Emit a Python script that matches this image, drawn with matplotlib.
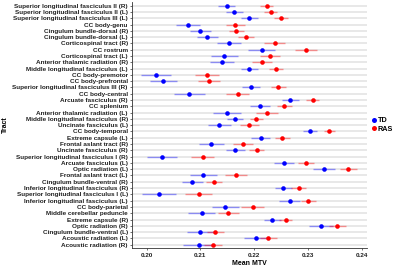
"""
Mean MTV per tract, TD vs RAS, with error bars.
"""

import numpy as np
import matplotlib
matplotlib.use("Agg")
import matplotlib.pyplot as plt
from matplotlib.lines import Line2D

# Tracts, top to bottom
tracts = [
    "Superior longitudinal fasciculus II (R)",
    "Superior longitudinal fasciculus II (L)",
    "Superior longitudinal fasciculus III (L)",
    "CC body-genu",
    "Cingulum bundle-dorsal (R)",
    "Cingulum bundle-dorsal (L)",
    "Corticospinal tract (R)",
    "CC rostrum",
    "Corticospinal tract (L)",
    "Anterior thalamic radiation (R)",
    "Middle longitudinal fasciculus (L)",
    "CC body-premotor",
    "CC body-prefrontal",
    "Superior longitudinal fasciculus III (R)",
    "CC body-central",
    "Arcuate fasciculus (R)",
    "CC splenium",
    "Anterior thalamic radiation (L)",
    "Middle longitudinal fasciculus (R)",
    "Uncinate fasciculus (L)",
    "CC body-temporal",
    "Extreme capsule (L)",
    "Frontal aslant tract (R)",
    "Uncinate fasciculus (R)",
    "Superior longitudinal fasciculus I (R)",
    "Arcuate fasciculus (L)",
    "Optic radiation (L)",
    "Frontal aslant tract (L)",
    "Cingulum bundle-ventral (R)",
    "Inferior longitudinal fasciculus (R)",
    "Superior longitudinal fasciculus I (L)",
    "Inferior longitudinal fasciculus (L)",
    "CC body-parietal",
    "Middle cerebellar peduncle",
    "Extreme capsule (R)",
    "Optic radiation (R)",
    "Cingulum bundle-ventral (L)",
    "Acoustic radiation (L)",
    "Acoustic radiation (R)",
]

td_mean = [0.2149, 0.2163, 0.2191, 0.2077, 0.2100, 0.2113, 0.2153, 0.2214, 0.2144, 0.2140,
           0.2191, 0.2018, 0.2031, 0.2194, 0.2079, 0.2267, 0.2211, 0.2149, 0.2164, 0.2135,
           0.2304, 0.2212, 0.2120, 0.2165, 0.2029, 0.2256, 0.2330, 0.2105, 0.2085, 0.2254,
           0.2023, 0.2266, 0.2146, 0.2102, 0.2234, 0.2324, 0.2100, 0.2203, 0.2097]
td_err = [0.0016, 0.0016, 0.0016, 0.0023, 0.0019, 0.0020, 0.0023, 0.0025, 0.0025, 0.0023,
          0.0016, 0.0028, 0.0025, 0.0016, 0.0029, 0.0016, 0.0018, 0.0026, 0.0015, 0.0021,
          0.0013, 0.0017, 0.0023, 0.0018, 0.0028, 0.0019, 0.0020, 0.0025, 0.0020, 0.0016,
          0.0031, 0.0019, 0.0025, 0.0025, 0.0015, 0.0022, 0.0025, 0.0022, 0.0030]
ras_mean = [0.2223, 0.2231, 0.2250, 0.2165, 0.2167, 0.2185, 0.2238, 0.2296, 0.2229, 0.2215,
            0.2240, 0.2112, 0.2116, 0.2245, 0.2169, 0.2309, 0.2256, 0.2224, 0.2204, 0.2191,
            0.2340, 0.2252, 0.2179, 0.2205, 0.2104, 0.2296, 0.2375, 0.2166, 0.2125, 0.2283,
            0.2097, 0.2301, 0.2197, 0.2152, 0.2259, 0.2355, 0.2128, 0.2226, 0.2123]
ras_err = [0.0012, 0.0012, 0.0013, 0.0018, 0.0014, 0.0015, 0.0019, 0.0020, 0.0019, 0.0019,
           0.0013, 0.0022, 0.0020, 0.0014, 0.0022, 0.0012, 0.0014, 0.0021, 0.0012, 0.0018,
           0.0011, 0.0014, 0.0019, 0.0014, 0.0022, 0.0015, 0.0016, 0.0020, 0.0015, 0.0014,
           0.0025, 0.0014, 0.0021, 0.0020, 0.0012, 0.0016, 0.0015, 0.0016, 0.0017]

x_ticks = [0.20, 0.21, 0.22, 0.23, 0.24]

plt.rcParams["font.family"] = ["Liberation Sans", "DejaVu Sans"]
plt.rcParams["font.weight"] = "bold"

fig = plt.figure(figsize=(4.0, 2.66), dpi=100)
ax = fig.add_axes([0.33, 0.066, 0.5875, 0.927])

y = np.arange(len(tracts))

# row grid lines
for yy in y:
    ax.axhline(yy, color="#e2e2e2", lw=1.1, zorder=0)

ax.errorbar(td_mean, y, xerr=td_err, fmt="none", ecolor="#0000ff", alpha=0.4, lw=1.0, zorder=2)
ax.errorbar(ras_mean, y, xerr=ras_err, fmt="none", ecolor="#ff0000", alpha=0.4, lw=1.0, zorder=2)
ax.plot(td_mean, y, "o", color="#0000ff", ms=3.3, mew=0, zorder=3)
ax.plot(ras_mean, y, "o", color="#ff0000", ms=3.3, mew=0, zorder=3)

ax.set_yticks(y)
ax.set_yticklabels(tracts, fontsize=4.6, fontweight="bold", color="#222222")
ax.set_ylim(len(tracts) - 0.4, -0.6)
ax.set_xlim(0.19727, 0.24099)
ax.set_xticks(x_ticks)
ax.set_xticklabels([f"{t:.2f}" for t in x_ticks], fontsize=4.6, fontweight="bold", color="#222222")
ax.tick_params(axis="both", length=1.5, width=0.5, pad=1.5, color="#333333")

for side in ["top", "right"]:
    ax.spines[side].set_visible(False)
for side in ["left", "bottom"]:
    ax.spines[side].set_linewidth(0.6)
    ax.spines[side].set_color("#333333")

ax.set_xlabel("Mean MTV", fontsize=5, fontweight="bold", labelpad=1.5)
fig.text(0.0125, 0.53, "Tract", rotation=90, fontsize=5, fontweight="bold", ha="center", va="center")

handles = [
    Line2D([], [], marker="o", ls="", color="#0000ff", ms=3.6, mew=0, label="TD"),
    Line2D([], [], marker="o", ls="", color="#ff0000", ms=3.6, mew=0, label="RAS"),
]
fig.legend(handles=handles, loc="center left", bbox_to_anchor=(0.925, 0.53), frameon=False,
           prop={"weight": "bold", "size": 5.2}, handletextpad=0.1, labelspacing=0.2,
           handlelength=1.0, borderaxespad=0, borderpad=0)

fig.savefig("out.png", dpi=100)
